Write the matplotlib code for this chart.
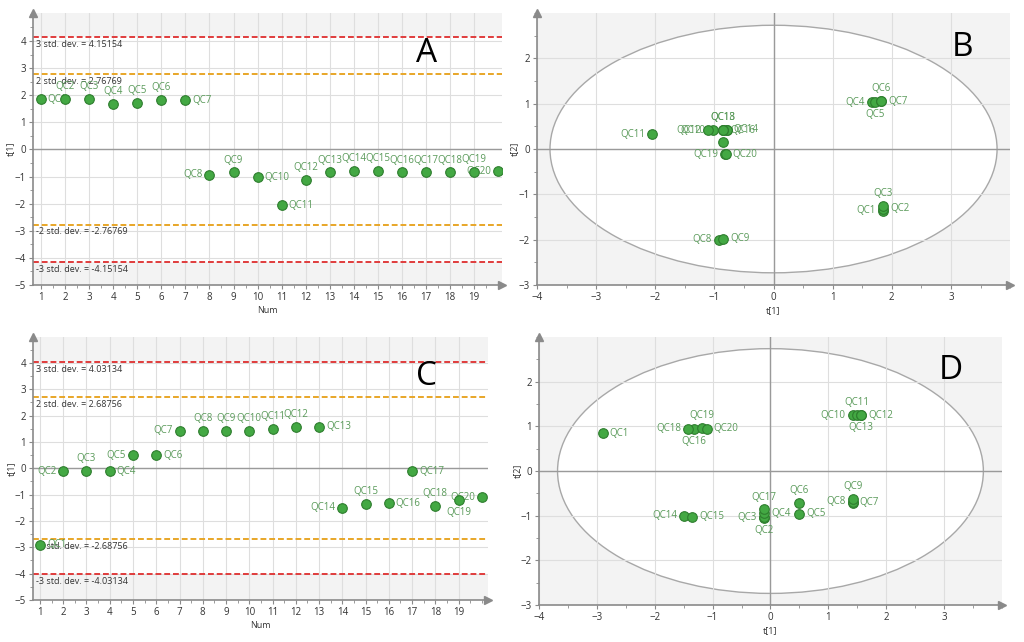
import matplotlib
matplotlib.use("Agg")
import matplotlib.pyplot as plt
from matplotlib.patches import Ellipse, Rectangle
from matplotlib.ticker import AutoMinorLocator
import matplotlib.transforms as mtransforms

plt.rcParams['font.family'] = ['Open Sans', 'DejaVu Sans']

names = [f"QC{i}" for i in range(1, 21)]
num = list(range(1, 21))

# Panel A / B (first model)
t1_A = [1.85, 1.85, 1.85, 1.66, 1.72, 1.82, 1.82, -0.93, -0.85, -1.03,
        -2.05, -1.11, -0.85, -0.79, -0.79, -0.85, -0.85, -0.85, -0.82, -0.81]
t2_B = [-1.36, -1.32, -1.26, 1.03, 1.03, 1.06, 1.05, -2.00, -1.98, 0.41,
        0.33, 0.41, 0.43, 0.42, 0.42, 0.41, 0.16, 0.43, -0.11, -0.11]
sd_A = [4.15154, 2.76769]
ell_B = (3.78, 2.73)

# Panel C / D (second model)
t1_C = [-2.90, -0.11, -0.11, -0.11, 0.50, 0.50, 1.42, 1.42, 1.42, 1.42,
        1.49, 1.57, 1.57, -1.49, -1.35, -1.32, -0.11, -1.42, -1.19, -1.10]
t2_D = [0.85, -1.05, -1.03, -0.94, -0.96, -0.72, -0.71, -0.69, -0.63, 1.25,
        1.25, 1.25, 1.25, -1.00, -1.02, 0.95, -0.86, 0.95, 0.97, 0.95]
sd_C = [4.03134, 2.68756]
ell_D = (3.68, 2.74)

# label placement: r=right, l=left, a=above, b=below, ''=hidden
pos_A = ['r', 'a', 'a', 'a', 'a', 'a', 'r', 'l', 'a', 'r',
         'r', 'a', 'a', 'a', 'a', 'a', 'a', 'a', 'a', 'l']
pos_B = ['l', 'r', 'a', 'l', 'b', 'a', 'r', 'l', 'r', 'l',
         'l', 'l', 'a', 'r', '', 'r', '', 'a', 'l', 'r']
pos_C = ['r', 'l', 'a', 'r', 'l', 'r', 'l', 'a', 'a', 'a',
         'a', 'a', 'r', 'l', 'a', 'r', 'r', 'a', 'b', 'l']
pos_D = ['r', 'b', 'l', 'r', 'r', 'a', 'r', 'l', 'a', 'l',
         'a', 'r', 'b', 'l', 'r', 'b', 'a', 'l', 'a', 'r']

MK_FACE = '#43a843'
MK_EDGE = '#2e7d2e'
LBL = '#5a9a5a'
BG = '#f3f3f3'
GRID = '#dedede'
SPINE = '#8a8a8a'
TXT = '#333333'

OFF = {'r': ((5, 0), 'left', 'center'),
       'l': ((-5, 0), 'right', 'center'),
       'a': ((0, 5), 'center', 'bottom'),
       'b': ((0, -5), 'center', 'top')}


def style_axes(ax):
    ax.set_facecolor(BG)
    ax.set_axisbelow(True)
    for s in ['top', 'right']:
        ax.spines[s].set_visible(False)
    for s in ['left', 'bottom']:
        ax.spines[s].set_color(SPINE)
        ax.spines[s].set_linewidth(1.2)
    ax.grid(True, color=GRID, lw=0.8)
    ax.tick_params(which='both', colors=SPINE, labelcolor=TXT, labelsize=7,
                   direction='out')
    ax.tick_params(which='major', length=3, pad=2)
    ax.tick_params(which='minor', length=2)
    ax.xaxis.set_minor_locator(AutoMinorLocator(2))
    ax.yaxis.set_minor_locator(AutoMinorLocator(2))
    ax.plot(0, 1, marker='^', ms=6, color=SPINE, transform=ax.transAxes,
            clip_on=False, zorder=5)
    ax.plot(1, 0, marker='>', ms=6, color=SPINE, transform=ax.transAxes,
            clip_on=False, zorder=5)


def points(ax, x, y, pos):
    ax.scatter(x, y, s=48, c=MK_FACE, edgecolors=MK_EDGE, linewidths=0.8,
               zorder=4)
    for xi, yi, n, p in zip(x, y, names, pos):
        if not p:
            continue
        off, ha, va = OFF[p]
        ax.annotate(n, (xi, yi), xytext=off, textcoords='offset points',
                    ha=ha, va=va, fontsize=7, color=LBL, zorder=3)


def control(ax, yvals, sd, pos, xlim, ylim, letter, lpos):
    style_axes(ax)
    ax.set_xlim(*xlim)
    ax.set_ylim(*ylim)
    ax.add_patch(Rectangle((xlim[0], -sd[0]), xlim[1] - xlim[0], 2 * sd[0],
                           facecolor='white', edgecolor='none', zorder=0.2))
    ax.axhline(0, color='#9a9a9a', lw=1.0, zorder=1)
    trans = mtransforms.blended_transform_factory(ax.transAxes, ax.transData)
    for val, col, k in [(sd[0], '#e03c3c', 3), (sd[1], '#e8a628', 2),
                        (-sd[1], '#e8a628', -2), (-sd[0], '#e03c3c', -3)]:
        ax.axhline(val, color=col, lw=1.4, ls=(0, (3, 1.5)), zorder=2)
        ax.annotate(f"{k} std. dev. = {val:g}",
                    (0, val), xycoords=trans, xytext=(2, -2),
                    textcoords='offset points', ha='left', va='top',
                    fontsize=6.5, color=TXT, zorder=3)
    points(ax, num, yvals, pos)
    ax.set_xticks(range(1, 20))
    ax.set_yticks(range(-5, 5))
    ax.set_xlabel('Num', fontsize=6.5, color=TXT, labelpad=2)
    ax.set_ylabel('t[1]', fontsize=6.5, color=TXT)
    ax.yaxis.set_label_coords(-0.038, 0.5)
    ax.text(lpos[0], lpos[1], letter, transform=ax.transAxes, fontsize=24,
            ha='center', va='center', color='black')


def score(ax, x, y, ell, pos, letter, lpos):
    style_axes(ax)
    ax.set_xlim(-4, 4)
    ax.set_ylim(-3, 3)
    ax.add_patch(Ellipse((0, 0), 2 * ell[0], 2 * ell[1], facecolor='white',
                         edgecolor='#a8a8a8', lw=1.0, zorder=0.2))
    ax.axhline(0, color='#9a9a9a', lw=1.0, zorder=1)
    ax.axvline(0, color='#9a9a9a', lw=1.0, zorder=1)
    points(ax, x, y, pos)
    ax.set_xticks(range(-4, 4))
    ax.set_yticks(range(-3, 3))
    ax.set_xlabel('t[1]', fontsize=6.5, color=TXT, labelpad=2)
    ax.set_ylabel('t[2]', fontsize=6.5, color=TXT)
    ax.yaxis.set_label_coords(-0.038, 0.5)
    ax.text(lpos[0], lpos[1], letter, transform=ax.transAxes, fontsize=24,
            ha='center', va='center', color='black')


fig = plt.figure(figsize=(10.24, 6.42), dpi=100)
axA = fig.add_axes([0.0322, 0.556, 0.458, 0.4237])
axB = fig.add_axes([0.5244, 0.556, 0.462, 0.4237])
axC = fig.add_axes([0.0322, 0.0654, 0.4443, 0.4097])
axD = fig.add_axes([0.5264, 0.0576, 0.452, 0.4174])

control(axA, t1_A, sd_A, pos_A, (0.67, 20.15), (-5, 5.03), 'A', (0.84, 0.85))
score(axB, t1_A, t2_B, ell_B, pos_B, 'B', (0.90, 0.875))
control(axC, t1_C, sd_C, pos_C, (0.7, 20.26), (-5, 4.98), 'C', (0.864, 0.848))
score(axD, t1_C, t2_D, ell_D, pos_D, 'D', (0.89, 0.874))

fig.savefig('out.png', dpi=100)
